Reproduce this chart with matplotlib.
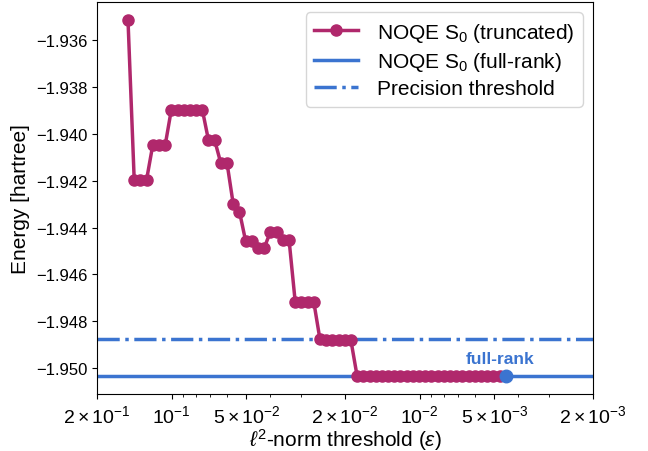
import matplotlib
matplotlib.use("Agg")
import matplotlib.pyplot as plt
import numpy as np

plt.rcParams['font.family'] = ['Liberation Sans', 'DejaVu Sans']
plt.rcParams['mathtext.fontset'] = 'custom'
plt.rcParams['mathtext.rm'] = 'Liberation Sans'
plt.rcParams['mathtext.it'] = 'Liberation Sans:italic'
plt.rcParams['mathtext.bf'] = 'Liberation Sans:bold'

# l2-norm thresholds of the truncated runs
eps = [0.1500, 0.1416, 0.1337, 0.1262, 0.1192, 0.1125, 0.1062, 0.1003,
       0.09470, 0.08940, 0.08441, 0.07969, 0.07523, 0.07103, 0.06706, 0.06331,
       0.05977, 0.05643, 0.05327, 0.05030, 0.04749, 0.04483, 0.04233, 0.03996,
       0.03773, 0.03562, 0.03363, 0.03175, 0.02998, 0.02830, 0.02672, 0.02523,
       0.02382, 0.02249, 0.02123, 0.02005, 0.01893, 0.01787, 0.01687, 0.01593,
       0.01504, 0.01420, 0.01341, 0.01266, 0.01195, 0.01128, 0.01065, 0.01006,
       0.009500, 0.008968, 0.008467, 0.007994, 0.007547, 0.007125, 0.006727,
       0.006351, 0.005996, 0.005661, 0.005345, 0.005046, 0.004764]

# NOQE S0 energies (hartree)
energy = [-1.93512,
          -1.94195, -1.94195, -1.94195,
          -1.94048, -1.94048, -1.94048,
          -1.93896, -1.93896, -1.93896, -1.93896, -1.93896, -1.93896,
          -1.94027, -1.94027,
          -1.94126, -1.94126,
          -1.94301, -1.94332,
          -1.94458, -1.94458,
          -1.94486, -1.94486,
          -1.94418, -1.94418,
          -1.94451, -1.94451,
          -1.94718, -1.94718, -1.94718, -1.94718,
          -1.94878, -1.94882, -1.94882, -1.94882, -1.94882, -1.94882] + [-1.95035] * 24

eps_full = 0.004498
e_full = -1.95035
chem_acc = 0.0016

magenta = '#b0286c'
blue = '#3b74d0'

fig = plt.figure(figsize=(6.48, 4.52), dpi=100)
ax = fig.add_axes([0.1497, 0.1261, 0.7654, 0.8673])

ax.axhline(e_full, color=blue, lw=2.5, zorder=1, label=r'NOQE S$_0$ (full-rank)')
ax.axhline(e_full + chem_acc, color=blue, lw=2.5, ls='-.', zorder=1,
           label='Precision threshold')
ax.plot(eps, energy, '-o', color=magenta, lw=2.5, ms=8, zorder=3,
        label=r'NOQE S$_0$ (truncated)')
ax.plot([eps_full], [e_full], 'o', color=blue, ms=9, zorder=4)
ax.text(0.00473, e_full + 0.00042, 'full-rank', color=blue, fontsize=12.5,
        fontweight='bold', ha='center', va='bottom')

ax.set_xscale('log')
ax.set_xlim(2e-1, 2e-3)
ax.set_xticks([2e-1, 1e-1, 5e-2, 2e-2, 1e-2, 5e-3, 2e-3])
ax.set_xticklabels([r'$2\times10^{-1}$', r'$10^{-1}$', r'$5\times10^{-2}$',
                    r'$2\times10^{-2}$', r'$10^{-2}$', r'$5\times10^{-3}$',
                    r'$2\times10^{-3}$'])
ax.set_yticks([-1.950, -1.948, -1.946, -1.944, -1.942, -1.940, -1.938, -1.936])
ax.set_yticklabels(['\u22121.950', '\u22121.948', '\u22121.946', '\u22121.944',
                    '\u22121.942', '\u22121.940', '\u22121.938', '\u22121.936'])
ax.tick_params(axis='y', labelsize=12)
ax.tick_params(axis='x', labelsize=14)
ax.set_xlabel(r'$\ell^2$-norm threshold ($\epsilon$)', fontsize=15, labelpad=0)
ax.set_ylabel('Energy [hartree]', fontsize=15)

h, l = ax.get_legend_handles_labels()
order = [2, 0, 1]
ax.legend([h[i] for i in order], [l[i] for i in order], loc='upper right',
          fontsize=15, handlelength=2.1, handletextpad=0.9, labelspacing=0.3)

fig.savefig('out.png', dpi=100)
